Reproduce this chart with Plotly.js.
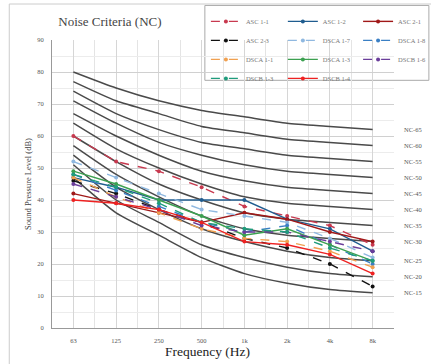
<!DOCTYPE html>
<html><head><meta charset="utf-8">
<script src="https://cdn.plot.ly/plotly-3.0.1.min.js"></script>
<style>html,body{margin:0;padding:0;background:#fff}</style>
</head><body><div id="chart" style="width:431px;height:364px"></div>
<script>
const freqs = ['63','125','250','500','1k','2k','4k','8k'];

// Noise Criteria reference curves
const ncNames = ['NC-65','NC-60','NC-55','NC-50','NC-45','NC-40','NC-35','NC-30','NC-25','NC-20','NC-15'];
const nc65 = [80,75,71,68,66,64,63,62];
const nc60 = [77,71,67,63,61,59,58,57];
const nc55 = [74,67,62,58,56,54,53,52];
const nc50 = [71,64,58,54,51,49,48,47];
const nc45 = [67,60,54,49,46,44,43,42];
const nc40 = [64,56,50,45,41,39,38,37];
const nc35 = [60,52,45,40,36,34,33,32];
const nc30 = [57,48,41,35,31,29,28,27];
const nc25 = [54,44,37,31,27,24,22,21];
const nc20 = [51,40,33,26,22,19,17,16];
const nc15 = [47,36,29,22,17,14,12,11];
const ncCurves = [nc65,nc60,nc55,nc50,nc45,nc40,nc35,nc30,nc25,nc20,nc15];

// Measured series
const seriesNames = ['ASC 1-1','ASC 1-2','ASC 2-1','ASC 2-3','DSCA 1-7','DSCA 1-8','DSCA 1-1','DSCA 1-3','DSCB 1-6','DSCB 1-3','DSCB 1-4'];
const asc11  = [60,52,49,44,38,35,32,26];
const asc12  = [47,44,40,40,40,34,31,24];
const asc21  = [42,39,36,33,36,34,30,27];
const asc23  = [46,42,37,33,28,25,20,13];
const dsca17 = [52,47,42,37,35,33,28,22];
const dsca18 = [48,43,38,33,30,32,26,20];
const dsca11 = [47,41,36,31,28,27,24,19];
const dsca13 = [49,45,40,35,29,31,26,21];
const dscb16 = [45,41,37,32,30,30,27,24];
const dscb13 = [48,44,39,33,31,30,25,21];
const dscb14 = [40,39,37,33,27,26,23,17];
const seriesData = [asc11,asc12,asc21,asc23,dsca17,dsca18,dsca11,dsca13,dscb16,dscb13,dscb14];

const seriesColors = ['#c8394f','#1f5c8f','#a01818','#111111','#8fb8e0','#3a7fc4','#f0a050','#3ca050','#6a3d9a','#1f9c7c','#ee2222'];
const seriesDash = ['dash','solid','solid','dash','dash','dash','dash','solid','dash','dash','solid'];
const legendCol = ['legend','legend2','legend3','legend','legend2','legend3','legend','legend2','legend3','legend','legend2'];

const xIdx = freqs.map((f,i)=>i);
const serif = "Liberation Serif";

const traces = [];
ncCurves.forEach((c,k)=>{
  traces.push({x:xIdx, y:c, type:'scatter', mode:'lines', name:ncNames[k], showlegend:false,
    line:{color:'#4a4a4a', width:1.5, shape:'spline', smoothing:0.6}, hoverinfo:'skip'});
});
seriesData.forEach((s,k)=>{
  traces.push({x:xIdx, y:s, type:'scatter', mode:'lines+markers', name:seriesNames[k],
    legend:legendCol[k],
    line:{color:seriesColors[k], width:1.4, dash:seriesDash[k]},
    marker:{color:seriesColors[k], size:4}});
});

const annotations = ncCurves.map((c,k)=>({
  xref:'paper', yref:'y', x:1.024, y:c[c.length-1], xanchor:'left', yanchor:'middle',
  text:ncNames[k], showarrow:false, font:{family:serif, size:6.5, color:'#555'}
}));
annotations.push({xref:'paper', yref:'paper', x:0.456, y:-0.083, xanchor:'center', yanchor:'middle',
  text:'Frequency (Hz)', showarrow:false, font:{family:serif, size:13.5, color:'#222'}});

const legBase = {bgcolor:'rgba(0,0,0,0)', borderwidth:0, font:{family:serif, size:6.5, color:'#777'},
  yanchor:'top', xanchor:'left', y:1.115, itemwidth:30, tracegroupgap:0};

const layout = {
  width:431, height:364,
  font:{family:serif},
  margin:{l:52, r:37, t:40, b:36, autoexpand:false},
  paper_bgcolor:'#fff', plot_bgcolor:'#fff',
  title:{text:'Noise Criteria (NC)', font:{family:serif, size:13, color:'#444'},
    xref:'container', x:0.255, xanchor:'center', yref:'container', y:0.94, yanchor:'middle'},
  xaxis:{range:[-0.5,7.5], tickmode:'array', tickvals:xIdx, ticktext:freqs,
    showgrid:true, gridcolor:'#d6d6d6', gridwidth:1,
    minor:{tickmode:'array', tickvals:xIdx.map(i=>i-0.5).concat([7.5]), showgrid:true, gridcolor:'#e4e4e4'},
    showline:true, linecolor:'#999', zeroline:false, automargin:false,
    tickfont:{family:serif, size:6.5, color:'#555'}, ticks:'', ticklabelstandoff:6},
  yaxis:{range:[0,90], dtick:10, showgrid:true, gridcolor:'#d0d0d0',
    minor:{dtick:5, showgrid:true, gridcolor:'#ececec'},
    showline:true, linecolor:'#999', zeroline:false, automargin:false,
    tickfont:{family:serif, size:6.5, color:'#555'}, ticks:'', ticklabelstandoff:6,
    title:{text:'Sound Pressure Level (dB)', font:{family:serif, size:8.5, color:'#444'}, standoff:4}},
  legend:Object.assign({}, legBase, {x:0.45}),
  legend2:Object.assign({}, legBase, {x:0.675}),
  legend3:Object.assign({}, legBase, {x:0.895}),
  shapes:[
    {type:'rect', xref:'paper', yref:'paper', x0:0.447, x1:1.102, y0:0.86, y1:1.12,
      line:{color:'#aaa', width:1}, fillcolor:'rgba(0,0,0,0)', layer:'below'},
    {type:'line', xref:'paper', yref:'paper', x0:-0.125, x1:-0.125, y0:-0.2, y1:1.125, line:{color:'#ccc', width:1}},
    {type:'line', xref:'paper', yref:'paper', x0:-0.125, x1:1.2, y0:1.125, y1:1.125, line:{color:'#ccc', width:1}}
  ],
  annotations:annotations,
  showlegend:true
};

Plotly.newPlot('chart', traces, layout, {displayModeBar:false, staticPlot:true});
</script></body></html>
